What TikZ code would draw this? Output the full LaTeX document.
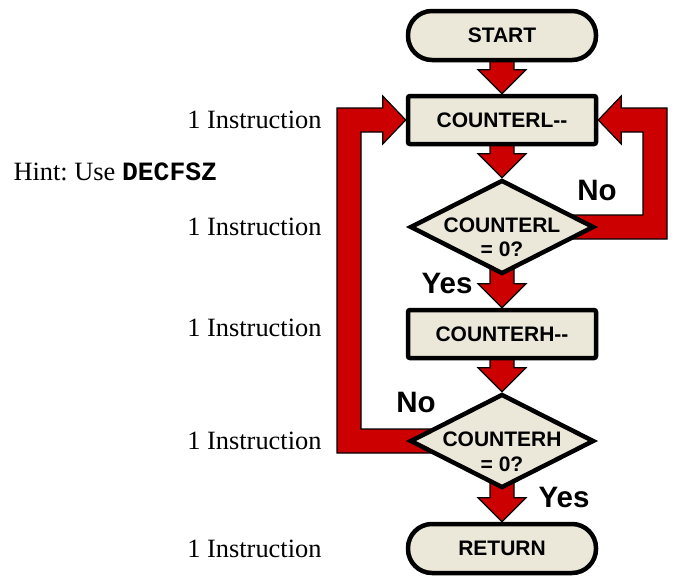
\documentclass[tikz,border=0pt]{standalone}
\usepackage{fontspec}
\setmainfont{Liberation Serif}
\setsansfont{Liberation Sans}
\setmonofont{Liberation Mono}
\usetikzlibrary{positioning, shapes.geometric, calc, backgrounds}
\definecolor{flowred}{HTML}{CC0000}
\definecolor{flowfill}{HTML}{EBE8DA}
\tikzset{
every picture/.style={
line width=1pt
}}

\begin{document}
\begin{tikzpicture}[x=1pt, y=-1pt,
terminal/.style = {rectangle, rounded corners=24pt, draw=black, line width=4.5pt, fill=flowfill, minimum width=188pt, minimum height=49pt, inner sep=0pt, font=\sffamily\bfseries\fontsize{21}{24}\selectfont},
process/.style = {rectangle, rounded corners=2pt, draw=black, line width=4.5pt, fill=flowfill, minimum width=188pt, minimum height=48pt, inner sep=0pt, font=\sffamily\bfseries\fontsize{21}{24}\selectfont},
decision/.style = {diamond, draw=black, line width=4.5pt, fill=flowfill, minimum width=184pt, minimum height=94pt, inner sep=0pt},
qtext/.style = {align=center, inner sep=0pt, font=\sffamily\bfseries\fontsize{21}{24.5}\selectfont},
answer/.style = {inner sep=0pt, font=\sffamily\bfseries\fontsize{29.5}{32}\selectfont},
note/.style = {inner sep=0pt, anchor=east, font=\fontsize{26.4}{30}\selectfont},
redarrow/.style = {fill=flowred, draw=black, line width=1.2pt, line join=miter},
node distance = 31.5pt]

  \useasboundingbox (0,0) rectangle (675,579);

  \node[terminal] (start) at (502,35.5) {START};
  \node[process, below=of start] (cl) {COUNTERL-{}-};
  \node[decision, below=of cl] (d1) {};
  \node[qtext] (q1) at ([yshift=-10.5pt]d1.center) {COUNTERL\\= 0?};
  \node[process, below=of d1] (ch) {COUNTERH-{}-};
  \node[decision, below=of ch] (d2) {};
  \node[qtext] (q2) at ([yshift=-11pt]d2.center) {COUNTERH\\= 0?};
  \node[terminal, below=of d2] (ret) {RETURN};

  \node[answer] (no1) at (597,190) {No};
  \node[answer] (yes1) at (447,283) {Yes};
  \node[answer] (no2) at (416,402) {No};
  \node[answer] (yes2) at (564,497) {Yes};

  \coordinate (textcol) at (322,0);
  \node[note] (n1) at (textcol |- cl) {1 Instruction};
  \node[note] (n2) at (textcol |- d1) {1 Instruction};
  \node[note] (n3) at ([yshift=6pt]textcol |- ch) {1 Instruction};
  \node[note] (n4) at (textcol |- d2) {1 Instruction};
  \node[note] (n5) at (textcol |- ret) {1 Instruction};
  \node[note, anchor=west] (hint) at (13,172) {Hint:\ Use \texttt{\bfseries DECFSZ}};

  \coordinate (lx) at (349,0);
  \coordinate (rx) at (655,0);

  \begin{scope}[on background layer]
  \foreach \a/\b in {start/cl, cl/d1, d1/ch, ch/d2, d2/ret}
    \filldraw[redarrow] ([xshift=-12pt]\a.center) -- ([xshift=-12pt,yshift=24pt]\b.north)
      -- ([xshift=-24pt,yshift=24pt]\b.north) -- (\b.north)
      -- ([xshift=24pt,yshift=24pt]\b.north) -- ([xshift=12pt,yshift=24pt]\b.north)
      -- ([xshift=12pt]\a.center) -- cycle;

  \filldraw[redarrow] ($(d2.center)+(0,12)$) -- ($(lx |- d2.center)+(-12,12)$)
    -- ($(lx |- cl.west)+(-12,-12)$) -- ($(cl.west)+(-23,-12)$) -- ($(cl.west)+(-23,-24)$)
    -- (cl.west) -- ($(cl.west)+(-23,24)$) -- ($(cl.west)+(-23,12)$)
    -- ($(lx |- cl.west)+(12,12)$) -- ($(lx |- d2.center)+(12,-12)$)
    -- ($(d2.center)+(0,-12)$) -- cycle;

  \filldraw[redarrow] ($(d1.center)+(0,-12)$) -- ($(rx |- d1.center)+(-12,-12)$)
    -- ($(rx |- cl.east)+(-12,12)$) -- ($(cl.east)+(23,12)$) -- ($(cl.east)+(23,24)$)
    -- (cl.east) -- ($(cl.east)+(23,-24)$) -- ($(cl.east)+(23,-12)$)
    -- ($(rx |- cl.east)+(12,-12)$) -- ($(rx |- d1.center)+(12,12)$)
    -- ($(d1.center)+(0,12)$) -- cycle;
  \end{scope}

\end{tikzpicture}
\end{document}
